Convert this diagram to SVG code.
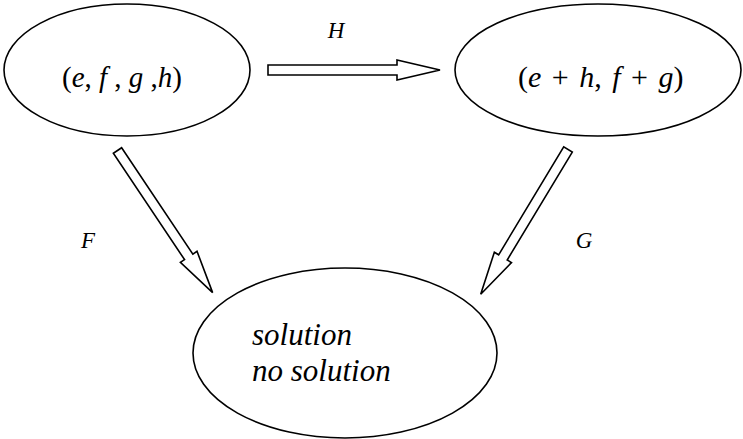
<svg xmlns="http://www.w3.org/2000/svg" width="743" height="439" viewBox="0 0 743 439">
<style>
.node{fill:#fff;stroke:#000;stroke-width:1.6}
.arr{fill:#fff;stroke:#000;stroke-width:1.6;stroke-linejoin:miter}
.t{font-family:'Liberation Serif','Times New Roman','DejaVu Serif',serif;fill:#000}
.it{font-style:italic}
.lab{font-size:23px}
</style>
<rect width="743" height="439" fill="#fff"/>
<g id="connectors">
  <g id="arrow-H"><polygon class="arr" transform="translate(268,70)" points="0,-5 129,-5 129,-10 172,0 129,10 129,5 0,5"/></g>
  <g id="arrow-F"><polygon class="arr" transform="translate(117.5,150.5) rotate(56.2)" points="0,-5 128,-5 128,-10 171,0 128,10 128,5 0,5"/></g>
  <g id="arrow-G"><polygon class="arr" transform="translate(568,149.5) rotate(121.1)" points="0,-5 126,-5 126,-10 169,0 126,10 126,5 0,5"/></g>
  <text class="t it lab" x="336" y="38" text-anchor="middle">H</text>
  <text class="t it lab" x="88" y="248" text-anchor="middle">F</text>
  <text class="t it lab" x="584" y="248" text-anchor="middle">G</text>
</g>
<g id="node-efgh">
  <ellipse class="node" cx="127" cy="70" rx="123" ry="66"/>
  <text class="t" x="62" y="87" font-size="29">(<tspan class="it">e</tspan>, <tspan class="it">f</tspan> , <tspan class="it">g</tspan> ,<tspan class="it">h</tspan>)</text>
</g>
<g id="node-sum">
  <ellipse class="node" cx="598" cy="70" rx="143" ry="66"/>
  <text class="t" x="518" y="87" font-size="30">(<tspan class="it">e</tspan><tspan dx="3"> + </tspan><tspan class="it" dx="3">h</tspan>, <tspan class="it" dx="3">f</tspan><tspan dx="3"> + </tspan><tspan class="it" dx="3">g</tspan>)</text>
</g>
<g id="node-solution">
  <ellipse class="node" cx="345" cy="353" rx="152" ry="85"/>
  <text class="t it" x="252" y="345" font-size="31">solution</text>
  <text class="t it" x="252" y="381" font-size="31">no solution</text>
</g>
</svg>
